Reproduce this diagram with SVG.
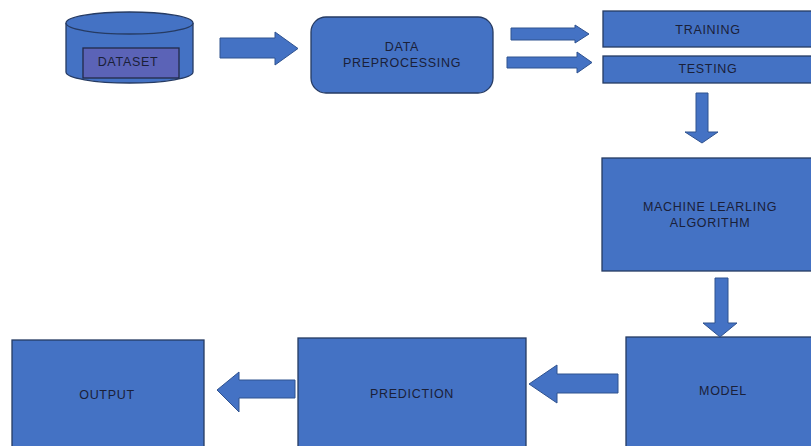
<svg xmlns="http://www.w3.org/2000/svg" width="811" height="446" viewBox="0 0 811 446">
<style>
.box{fill:#4472c4;stroke:#263b63;stroke-width:1.3}
.arr{fill:#4472c4;stroke:#2f528f;stroke-width:1}
.t{font-family:"Liberation Sans","Open Sans",sans-serif;font-size:12.5px;letter-spacing:0.7px;fill:#1a2038;text-anchor:middle}
</style>
<rect width="811" height="446" fill="#fff"/>
<g id="dataset">
<path class="box" d="M66,23 L66,72 A63.5,11 0 0 0 193,72 L193,23"/>
<ellipse class="box" cx="129.5" cy="23" rx="63.5" ry="11"/>
<rect x="83" y="48" width="96" height="30" fill="#5b63b7" stroke="#222a48" stroke-width="1.3"/>
<text class="t" x="128" y="66">DATASET</text>
</g>
<g id="preprocessing">
<rect class="box" x="311" y="17" width="182" height="76" rx="15"/>
<text class="t" x="402" y="51">DATA</text>
<text class="t" x="402" y="67">PREPROCESSING</text>
</g>
<g id="training">
<rect class="box" x="603" y="11" width="212" height="36"/>
<text class="t" x="708" y="34">TRAINING</text>
</g>
<g id="testing">
<rect class="box" x="603" y="56" width="212" height="27"/>
<text class="t" x="708" y="73">TESTING</text>
</g>
<g id="algorithm">
<rect class="box" x="602" y="158" width="213" height="113"/>
<text class="t" x="710" y="211">MACHINE LEARLING</text>
<text class="t" x="710" y="227">ALGORITHM</text>
</g>
<g id="model">
<rect class="box" x="626" y="337" width="190" height="115"/>
<text class="t" x="723" y="395">MODEL</text>
</g>
<g id="prediction">
<rect class="box" x="298" y="338" width="228" height="114"/>
<text class="t" x="412" y="398">PREDICTION</text>
</g>
<g id="output">
<rect class="box" x="12" y="340" width="192" height="112"/>
<text class="t" x="107" y="399">OUTPUT</text>
</g>
<g id="connectors">
<polygon class="arr" points="220,38 275,38 275,32 298,48.5 275,65 275,58 220,58"/>
<polygon class="arr" points="511,28 575,28 575,25 589,34 575,43 575,40 511,40"/>
<polygon class="arr" points="507,57 577,57 577,52 592,62.5 577,73 577,68 507,68"/>
<polygon class="arr" points="696,93 708,93 708,132 718,132 702,143 685,132 696,132"/>
<polygon class="arr" points="715,278 728,278 728,323 737,323 720,337 703,323 715,323"/>
<polygon class="arr" points="618,374 557,374 557,365 529,384 557,403 557,393 618,393"/>
<polygon class="arr" points="295,380 239,380 239,372 217,390 239,412 239,398 295,398"/>
</g>
</svg>
